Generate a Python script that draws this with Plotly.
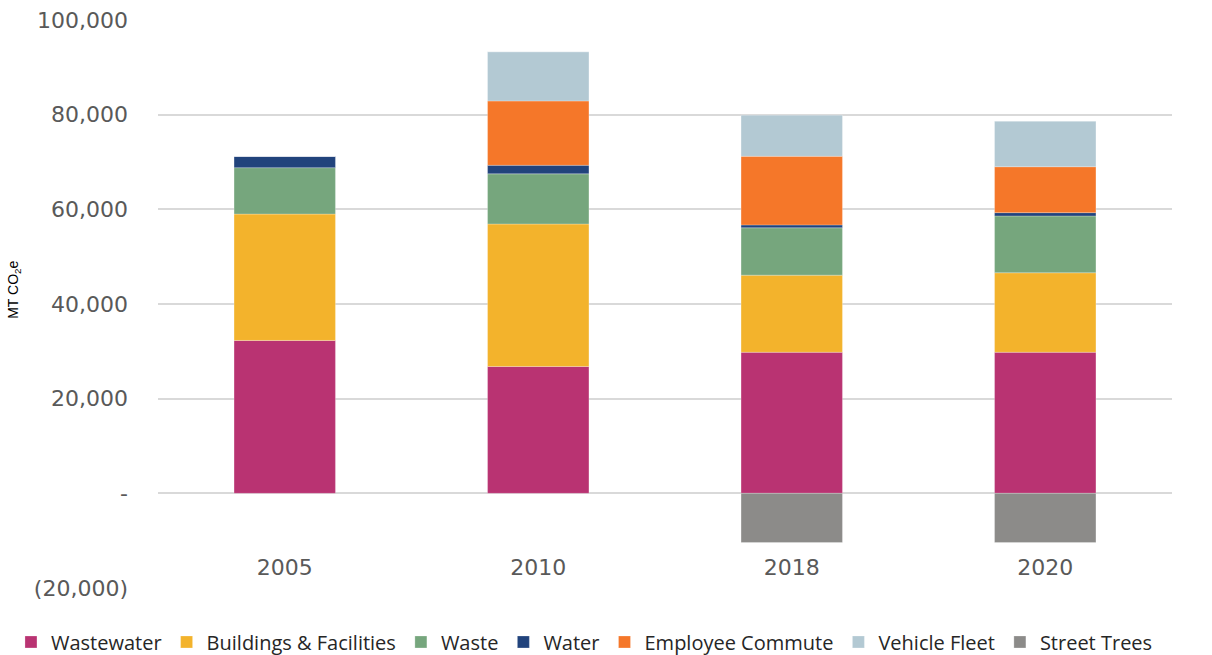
import plotly.graph_objects as go

years = ["2005", "2010", "2018", "2020"]
wastewater = [32300, 26800, 29800, 29800]
buildings = [26700, 30100, 16300, 16800]
waste = [9800, 10600, 10000, 12000]
water = [2400, 1800, 600, 700]
commute = [0, 13600, 14500, 9700]
fleet = [0, 10400, 8700, 9600]
street_trees = [0, 0, -10400, -10400]

series = [
    ("Wastewater", wastewater, "#B93372"),
    ("Buildings & Facilities", buildings, "#F3B32C"),
    ("Waste", waste, "#76A67D"),
    ("Water", water, "#21437C"),
    ("Employee Commute", commute, "#F57729"),
    ("Vehicle Fleet", fleet, "#B3C9D3"),
    ("Street Trees", street_trees, "#8C8B89"),
]

tick_vals = [-20000, 0, 20000, 40000, 60000, 80000, 100000]
tick_text = ["(20,000)", "-", "20,000", "40,000", "60,000", "80,000", "100,000"]

fig = go.Figure()
for name, vals, color in series:
    fig.add_trace(go.Bar(
        x=years, y=vals, name=name,
        marker=dict(color=color, line=dict(color="rgba(255,255,255,0.5)", width=0.5)),
        width=0.4,
    ))

font_family = "DejaVu Sans, sans-serif"
fig.update_layout(
    barmode="relative",
    width=1212, height=655,
    margin=dict(l=158, r=40, t=20, b=67, autoexpand=False),
    paper_bgcolor="white", plot_bgcolor="white",
    font=dict(family=font_family, color="#595959"),
    xaxis=dict(
        showgrid=False, showline=False, zeroline=False,
        anchor="free", position=0.063,
        tickfont=dict(size=22, color="#595959"),
        ticks="",
    ),
    yaxis=dict(
        range=[-20000, 100000],
        tickvals=tick_vals, ticktext=tick_text,
        showgrid=True, gridcolor="#D9D9D9", gridwidth=2,
        zeroline=True, zerolinecolor="#D9D9D9", zerolinewidth=2,
        showline=False,
        tickfont=dict(size=22, color="#595959"),
        ticklabelstandoff=29,
    ),
    legend=dict(
        orientation="h", xref="paper", yref="paper",
        x=-0.145, xanchor="left", y=-0.095, yanchor="middle",
        font=dict(size=20, color="#262626", family="Open Sans, sans-serif"),
        traceorder="normal",
        itemclick=False,
    ),
    annotations=[dict(
        text="MT CO<sub>2</sub>e", textangle=-90,
        xref="paper", yref="paper", x=-0.142, y=0.525,
        xanchor="center", yanchor="middle",
        showarrow=False, font=dict(family="Liberation Sans, Arial", size=14, color="#000000"),
    )],
)

fig.write_html("out.html")
